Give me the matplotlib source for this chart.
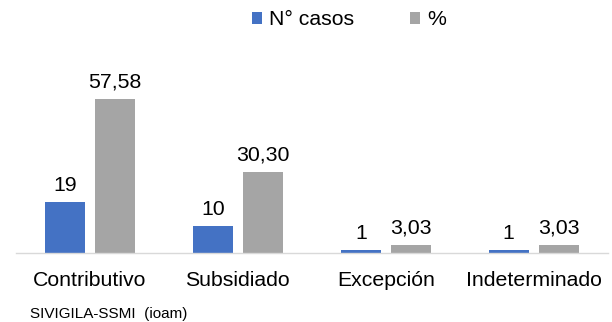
import numpy as np
import matplotlib
matplotlib.use('Agg')
import matplotlib.pyplot as plt

plt.rcParams['font.family'] = ['Liberation Sans', 'DejaVu Sans']

categories = ['Contributivo', 'Subsidiado', 'Excepción', 'Indeterminado']
casos = [19, 10, 1, 1]
porcentaje = [57.58, 30.30, 3.03, 3.03]
series_names = ['N° casos', '%']
COLORS = ['#4472C4', '#A5A5A5']

fig = plt.figure(figsize=(6.12, 3.22), dpi=100)
ax = fig.add_axes([0.026, 0.214, 0.967, 0.581])

x = np.arange(len(categories))
width = 0.27
off = 0.169

b1 = ax.bar(x - off, casos, width, color=COLORS[0], label=series_names[0])
b2 = ax.bar(x + off, porcentaje, width, color=COLORS[1], label=series_names[1])

for bar, val in zip(b1, casos):
    ax.annotate(f'{val}', (bar.get_x() + bar.get_width()/2, bar.get_height()),
                xytext=(0, 5.5), textcoords='offset points',
                ha='center', va='bottom', fontsize=15.3)
for bar, val in zip(b2, porcentaje):
    ax.annotate(f'{val:.2f}'.replace('.', ','), (bar.get_x() + bar.get_width()/2, bar.get_height()),
                xytext=(0, 5.5), textcoords='offset points',
                ha='center', va='bottom', fontsize=15.3)

ax.set_xlim(-0.5, len(categories) - 0.5)
ax.set_ylim(0, 70)
ax.set_xticks(x)
ax.set_xticklabels(categories, fontsize=15.3)
ax.tick_params(axis='x', length=0, pad=13)
ax.set_yticks([])
for s in ['top', 'right', 'left']:
    ax.spines[s].set_visible(False)
ax.spines['bottom'].set_color('#D9D9D9')
ax.spines['bottom'].set_linewidth(1)

fig.legend(loc='center', bbox_to_anchor=(0.57, 0.938), ncol=2, frameon=False,
           fontsize=15.3, handlelength=0.5, handleheight=0.5, handletextpad=0.33,
           columnspacing=2.6, borderpad=0, borderaxespad=0)

fig.text(0.049, 0.012, 'SIVIGILA-SSMI  (ioam)', fontsize=11, va='baseline')

fig.savefig('out.png', dpi=100)
